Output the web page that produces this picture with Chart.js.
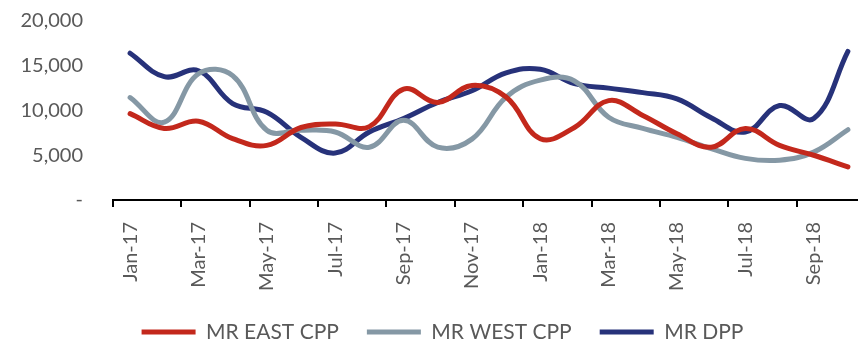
<!DOCTYPE html>
<html>
<head>
<meta charset="utf-8">
<script src="https://cdn.jsdelivr.net/npm/chart.js@4.4.1/dist/chart.umd.min.js"></script>
<style>
  html, body { margin: 0; padding: 0; background: #ffffff; overflow: hidden; }
  #wrap { width: 858px; height: 340px; overflow: hidden; }
  #chart { display: block; margin-top: -13px; }
</style>
</head>
<body>
<div id="wrap"><canvas id="chart" width="890" height="353"></canvas></div>
<script>
// Monthly categories
const months = [
  'Jan-17','Feb-17','Mar-17','Apr-17','May-17','Jun-17','Jul-17','Aug-17','Sep-17','Oct-17','Nov-17','Dec-17',
  'Jan-18','Feb-18','Mar-18','Apr-18','May-18','Jun-18','Jul-18','Aug-18','Sep-18','Oct-18'
];

// Series values
const mrEastCpp = [9650, 8000, 8800, 6850, 6100, 8100, 8500, 8200, 12400, 10900, 12800, 11500,
                   6850, 8100, 11100, 9450, 7400, 5900, 8000, 6100, 5000, 3700];
const mrWestCpp = [11450, 8700, 14100, 13900, 7800, 7800, 7600, 5900, 8900, 5900, 6800, 11500,
                   13400, 13300, 9250, 8000, 7000, 5750, 4650, 4450, 5350, 7850];
const mrDpp     = [16400, 13780, 14440, 10780, 9800, 7000, 5240, 7600, 9100, 10900, 12200, 14200,
                   14600, 13000, 12500, 12000, 11300, 9200, 7600, 10550, 9100, 16600];

// Y-axis tick values
const yTicks = [0, 5000, 10000, 15000, 20000];

const textGrey = '#595959';
const fontFamily = 'Lato, "Liberation Sans", sans-serif';

const fmt = v => v === 0 ? '-' : v.toLocaleString('en-US');

// Nudge the legend row a little to the right after layout
const legendShift = {
  id: 'legendShift',
  afterLayout(chart) {
    const lg = chart.legend;
    if (lg) { lg.left += 10; lg.right += 10; }
  }
};

new Chart(document.getElementById('chart'), {
  type: 'line',
  data: {
    labels: months,
    datasets: [
      { label: 'MR EAST CPP', data: mrEastCpp, borderColor: '#C3281C', backgroundColor: '#C3281C' },
      { label: 'MR WEST CPP', data: mrWestCpp, borderColor: '#8598A5', backgroundColor: '#8598A5' },
      { label: 'MR DPP',      data: mrDpp,     borderColor: '#27327A', backgroundColor: '#27327A' }
    ]
  },
  plugins: [legendShift],
  options: {
    responsive: false,
    animation: false,
    layout: { padding: { top: 0, left: 0, right: 25, bottom: -12.5 } },
    elements: {
      line: { borderWidth: 5, tension: 0.4, borderCapStyle: 'round', borderJoinStyle: 'round' },
      point: { radius: 0, hoverRadius: 0 }
    },
    plugins: {
      tooltip: { enabled: false },
      legend: {
        position: 'bottom',
        labels: {
          color: textGrey,
          font: { family: fontFamily, size: 21 },
          boxWidth: 54,
          boxHeight: 5,
          padding: 28,
          useBorderRadius: true,
          borderRadius: 2.5,
          generateLabels(chart) {
            return chart.data.datasets.map((ds, i) => ({
              text: ds.label,
              fillStyle: ds.borderColor,
              strokeStyle: ds.borderColor,
              lineWidth: 0,
              fontColor: textGrey,
              datasetIndex: i,
              hidden: false
            }));
          }
        }
      }
    },
    scales: {
      x: {
        type: 'category',
        offset: true,
        border: { display: true, color: '#000000', width: 2 },
        grid: {
          offset: true,
          drawOnChartArea: false,
          drawTicks: true,
          tickLength: 7,
          lineWidth: 2,
          color: ctx => (ctx.index % 2 === 0 ? '#000000' : 'rgba(0,0,0,0)')
        },
        ticks: {
          autoSkip: false,
          minRotation: 90,
          maxRotation: 90,
          padding: 15,
          color: textGrey,
          font: { family: fontFamily, size: 20 },
          callback(value, index) { return index % 2 === 0 ? this.getLabelForValue(value) : ''; }
        },
        afterFit(scale) { scale.height = 93.5; }
      },
      y: {
        min: 0,
        max: 20000,
        border: { display: false },
        grid: { display: false },
        afterBuildTicks(scale) { scale.ticks = yTicks.map(v => ({ value: v })); },
        ticks: {
          padding: 22,
          color: textGrey,
          font: { family: fontFamily, size: 20 },
          callback: v => fmt(v)
        },
        afterFit(scale) { scale.width = 113; }
      }
    }
  }
});
</script>
</body>
</html>
